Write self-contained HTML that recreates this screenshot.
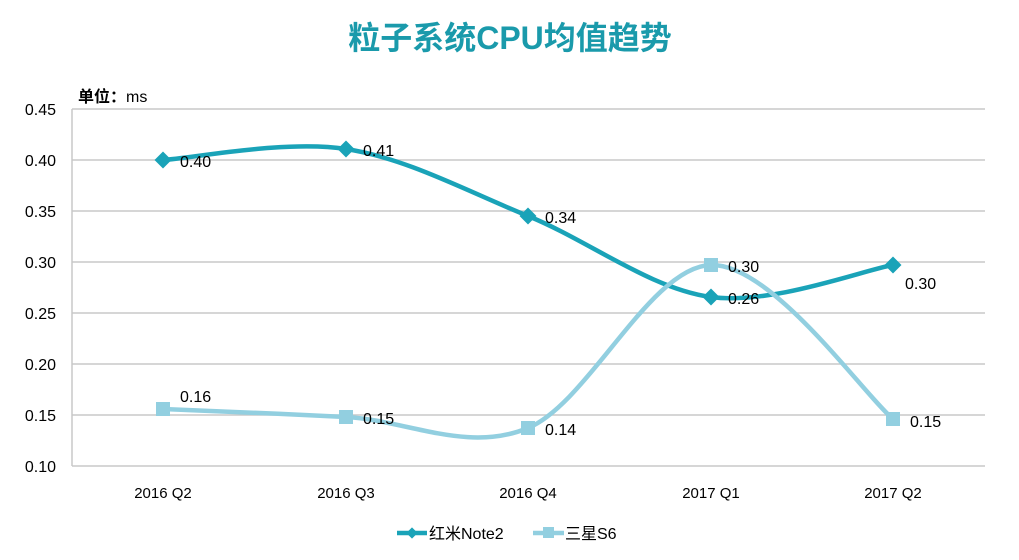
<!DOCTYPE html>
<html><head><meta charset="utf-8"><style>
body{margin:0;background:#fff;width:1019px;height:555px;overflow:hidden}
text{font-family:"Liberation Sans","Noto Sans CJK SC",sans-serif;fill:#000}
</style></head><body>
<svg width="1019" height="555" viewBox="0 0 1019 555">
<text x="510" y="49" text-anchor="middle" font-size="32" font-weight="bold" style="fill:#1a9aab">粒子系统CPU均值趋势</text>
<text x="78" y="102" font-size="16" font-weight="bold">单位：<tspan font-weight="normal">ms</tspan></text>
<g stroke="#c8c8c8" stroke-width="1.5">
<line x1="72" y1="109" x2="985" y2="109"/><line x1="72" y1="160" x2="985" y2="160"/>
<line x1="72" y1="211" x2="985" y2="211"/><line x1="72" y1="262" x2="985" y2="262"/>
<line x1="72" y1="313" x2="985" y2="313"/><line x1="72" y1="364" x2="985" y2="364"/>
<line x1="72" y1="415" x2="985" y2="415"/><line x1="72" y1="466" x2="985" y2="466"/>
<line x1="72" y1="109" x2="72" y2="466"/>
</g>
<g font-size="16" text-anchor="end">
<text x="56" y="115">0.45</text><text x="56" y="166">0.40</text><text x="56" y="217">0.35</text>
<text x="56" y="268">0.30</text><text x="56" y="319">0.25</text><text x="56" y="370">0.20</text>
<text x="56" y="421">0.15</text><text x="56" y="472">0.10</text>
</g>
<g font-size="15" text-anchor="middle">
<text x="163" y="498">2016 Q2</text><text x="346" y="498">2016 Q3</text><text x="528" y="498">2016 Q4</text>
<text x="711" y="498">2017 Q1</text><text x="893" y="498">2017 Q2</text>
</g>
<path d="M163,160 C193.5,158.2 285.2,139.7 346,149 C406.8,158.3 467.2,191.3 528,216 C588.8,240.7 650.2,288.8 711,297 C771.8,305.2 862.7,270.3 893,265" fill="none" stroke="#1aa3b8" stroke-width="4.5"/>
<path d="M163,409 C193.5,410.3 285.2,413.8 346,417 C406.8,420.2 467.2,453.3 528,428 C588.8,402.7 650.2,266.5 711,265 C771.8,263.5 862.7,393.3 893,419" fill="none" stroke="#92cfe0" stroke-width="4.5"/>
<g fill="#1aa3b8">
<rect x="157" y="154" width="12" height="12" transform="rotate(45 163 160)"/>
<rect x="340" y="143" width="12" height="12" transform="rotate(45 346 149)"/>
<rect x="522" y="210" width="12" height="12" transform="rotate(45 528 216)"/>
<rect x="705" y="291" width="12" height="12" transform="rotate(45 711 297)"/>
<rect x="887" y="259" width="12" height="12" transform="rotate(45 893 265)"/>
</g>
<g fill="#92cfe0">
<rect x="156" y="402" width="14" height="14"/><rect x="339" y="410" width="14" height="14"/>
<rect x="521" y="421" width="14" height="14"/><rect x="704" y="258" width="14" height="14"/>
<rect x="886" y="412" width="14" height="14"/>
</g>
<g font-size="16">
<text x="180" y="167">0.40</text><text x="363" y="156">0.41</text><text x="545" y="223">0.34</text>
<text x="728" y="304">0.26</text><text x="905" y="289">0.30</text>
<text x="180" y="402">0.16</text><text x="363" y="424">0.15</text><text x="545" y="435">0.14</text>
<text x="728" y="272">0.30</text><text x="910" y="427">0.15</text>
</g>
<line x1="397" y1="533" x2="427" y2="533" stroke="#1aa3b8" stroke-width="4.5"/>
<rect x="408" y="529" width="8" height="8" fill="#1aa3b8" transform="rotate(45 412 533)"/>
<text x="429" y="539" font-size="16">红米Note2</text>
<line x1="533" y1="533" x2="564" y2="533" stroke="#92cfe0" stroke-width="4.5"/>
<rect x="543" y="527" width="11" height="11" fill="#92cfe0"/>
<text x="565" y="539" font-size="16">三星S6</text>
</svg>
</body></html>
